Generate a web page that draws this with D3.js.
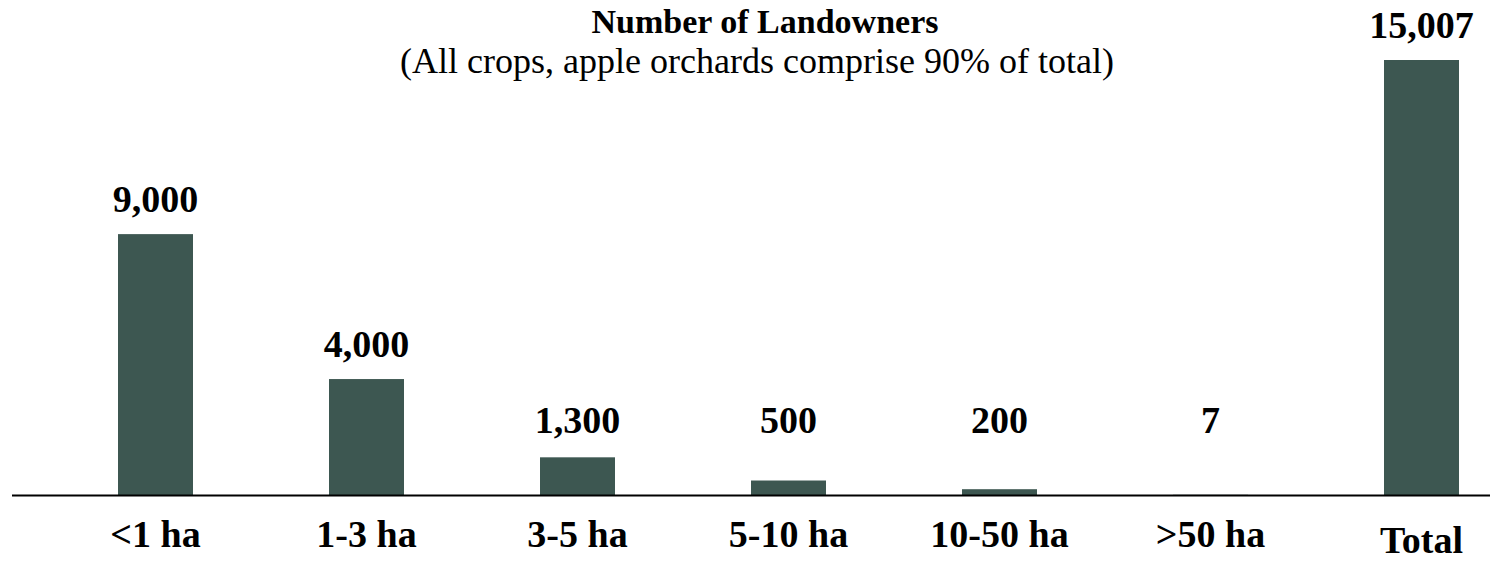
<!DOCTYPE html>
<html>
<head>
<meta charset="utf-8">
<script src="https://cdn.jsdelivr.net/npm/d3@7"></script>
<style>
  body { margin: 0; background: #fff; }
  text { font-family: "Liberation Serif", "Times New Roman", serif; fill: #000; }
</style>
</head>
<body>
<script>
// data
var categories = ['<1 ha', '1-3 ha', '3-5 ha', '5-10 ha', '10-50 ha', '>50 ha', 'Total'];
var landowners = [9000, 4000, 1300, 500, 200, 7, 15007];

var width = 1493;
var height = 562;
var baseline = 495;
var barColor = '#3d5751';

var svg = d3.select('body').append('svg')
  .attr('width', width).attr('height', height);

var x = d3.scalePoint()
  .domain(categories)
  .range([50, 1527])
  .padding(0.5);

var y = d3.scaleLinear()
  .domain([0, 15007])
  .range([baseline, 60]);

var barWidth = 75;
var fmt = d3.format(',');

// bars
svg.selectAll('rect.bar')
  .data(landowners)
  .enter()
  .append('rect')
  .attr('class', 'bar')
  .attr('x', function(d, i) { return x(categories[i]) - barWidth / 2; })
  .attr('y', function(d) { return y(d); })
  .attr('width', barWidth)
  .attr('height', function(d) { return baseline - y(d); })
  .attr('fill', barColor);

// baseline axis
var xAxis = d3.axisBottom(x).tickSize(0).tickFormat('');
var axisG = svg.append('g')
  .attr('transform', 'translate(0,' + baseline + ')')
  .call(xAxis);
axisG.select('.domain')
  .attr('d', 'M12,0.5H1490')
  .attr('stroke', '#000')
  .attr('stroke-width', 2);

// category labels
svg.selectAll('text.cat')
  .data(categories)
  .enter()
  .append('text')
  .attr('class', 'cat')
  .attr('x', function(d) { return x(d); })
  .attr('y', function(d) { return d === 'Total' ? 553 : 547; })
  .attr('text-anchor', 'middle')
  .style('font-weight', 'bold')
  .style('font-size', '38px')
  .text(function(d) { return d; });

// value labels
svg.selectAll('text.val')
  .data(landowners)
  .enter()
  .append('text')
  .attr('class', 'val')
  .attr('x', function(d, i) { return x(categories[i]); })
  .attr('y', function(d) { return Math.min(y(d) - 22, 433); })
  .attr('text-anchor', 'middle')
  .style('font-weight', 'bold')
  .style('font-size', '38px')
  .text(function(d) { return fmt(d); });

// title
svg.append('text')
  .attr('x', 765)
  .attr('y', 33)
  .attr('text-anchor', 'middle')
  .style('font-weight', 'bold')
  .style('font-size', '34px')
  .text('Number of Landowners');

svg.append('text')
  .attr('x', 757)
  .attr('y', 73)
  .attr('text-anchor', 'middle')
  .style('font-size', '36px')
  .text('(All crops, apple orchards comprise 90% of total)');
</script>
</body>
</html>
